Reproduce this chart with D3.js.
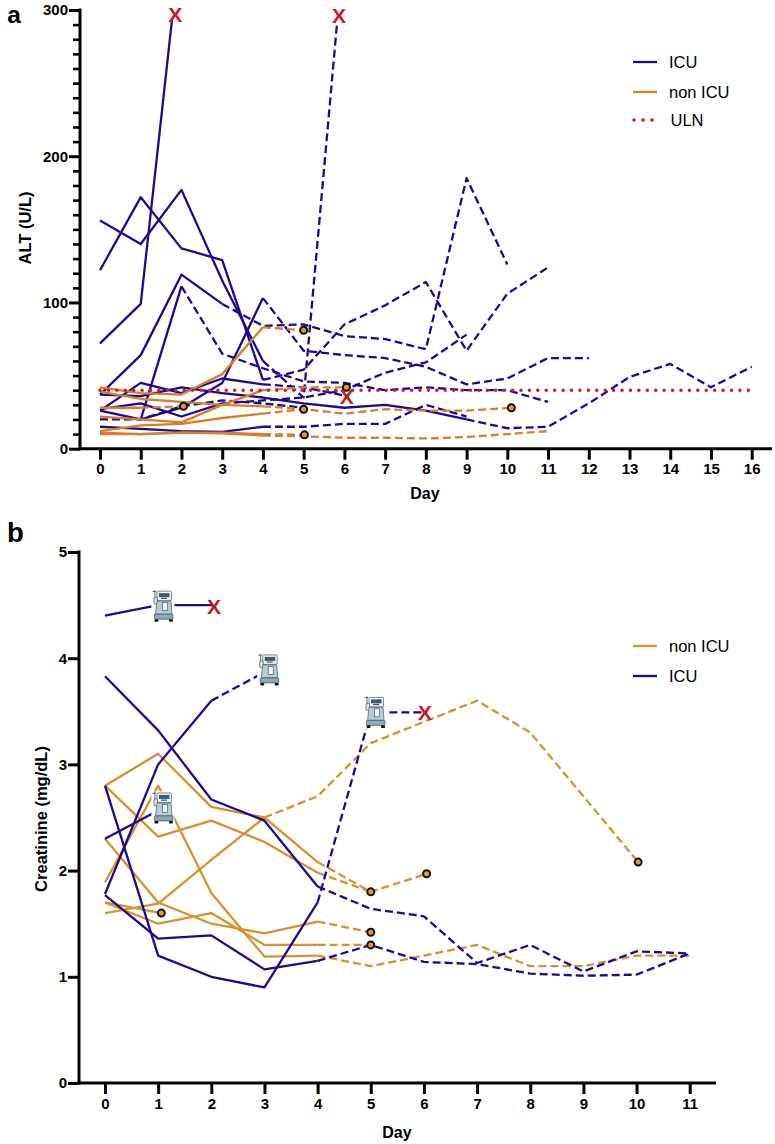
<!DOCTYPE html>
<html><head><meta charset="utf-8">
<script src="https://cdn.jsdelivr.net/npm/d3@7/dist/d3.min.js"></script>
<style>html,body{margin:0;padding:0;background:#fff}svg{display:block}text{font-family:"Liberation Sans",Arial,sans-serif;fill:#000}</style>
</head><body><svg id="c" width="775" height="1144"></svg>
<script>
// ---- Panel a data: ALT (U/L) by day
const altDayTicks = d3.range(0, 17);
const altMajorTicks = [0, 100, 200, 300];
const altMinorTicks = d3.range(0, 301, 10);
const altUln = [[0, 40], [16, 40]];
const altIcuValues = [
  [122,172,137,129,47,54,85,98,114,67,106,124],
  [156,140,177,115,60,35,291],
  [72,99,294],
  [37,64,119,99,84,85,77,75,68,185,126],
  [null,20,111,65,55,46,45,40,42,40,40,32],
  [26,45,38,48,44,42,36],
  [37,36,42,38,35,31,28,30,26,20,14,15,31,49,58,42,56],
  [26,20,28,45,103,67,64,62,56,44,48,62,62],
  [27,31,22,31,33,35,40,52,59,78],
  [15,13.5,12,11.5,15,15,17,17,30,22],
  [20,20,29,33,31,28]
];
const altIcuLastDay = [null,5.82,1.77,null,null,6.06,null,null,null,null,null];
const altIcuSolid = [[0,4],[0,4],[0,2],[0,3],[1,2],[0,4],[0,9],[0,4],[0,3],[0,4],[0,0]];
const altNonValues = [
  [42,38,37,51,83,81],
  [39,34,32,30,29,27],
  [28,28,29],
  [22,20,18,30,40,42,42],
  [12,16,17,21,24,27,24,27,26,26,28],
  [11,10,11,11,10,9.5],
  [10,10,11,10.5,9,8.5,7.5,7.5,7,8,10,12]
];
const altNonLastDay = [null,null,null,null,10.1,null,null];
const altNonSolid = [[0,4],[0,4],[0,1],[0,4],[0,4],[0,4],[0,4]];
const altDots = [[5,81],[5,27],[2.05,29],[6.05,42],[10.1,28],[5.02,9.5]];
const altCrosses = [[1.85,297],[5.87,296],[6.06,35.5]];

// ---- Panel b data: Creatinine (mg/dL) by day
const creDayTicks = d3.range(0, 12);
const creMajorTicks = [0, 1, 2, 3, 4, 5];
const creIcuValues = [
  [4.4,4.5,4.5],
  [3.83,3.32,2.67,2.47,1.85,1.64,1.57,1.13,1.3,1.05,1.24,1.22],
  [1.78,3.0,3.6,3.89],
  [2.8,1.2,1.0,0.9,1.7,3.49,3.49],
  [2.3,2.59],
  [1.77,1.36,1.39,1.07,1.15,1.3,1.14,1.12,1.03,1.01,1.02,1.22]
];
const creIcuLastDay = [2.03,null,3.08,6.01,1.09,null];
const creIcuSolid = [[0,2],[0,4],[0,2],[0,4],[0,1],[0,4]];
const creNonValues = [
  [2.8,3.1,2.6,2.5,2.08,1.8,1.97],
  [2.8,2.32,2.47,2.27,1.98,1.8],
  [1.89,2.8,1.79,1.19,1.2,1.1,1.2,1.3,1.1,1.1,1.2,1.2],
  [2.3,1.7,1.5,1.41,1.52,1.42],
  [1.7,1.5,1.6,1.3,1.3,1.3],
  [1.6,1.69,2.1,2.5,2.7,3.2,3.4,3.6,3.3,2.7,2.08],
  [1.7,1.6]
];
const creNonLastDay = [6.05,null,null,null,null,10.03,1.06];
const creNonSolid = [[0,4],[0,4],[0,4],[0,4],[0,4],[0,3],[0,1]];
const creDots = [[5,1.8],[6.05,1.97],[10.03,2.08],[5,1.42],[5,1.3],[1.06,1.6]];
const creCrosses = [[2.05,4.49],[6.02,3.49]];
const creVents = [[1.09,4.49],[3.08,3.89],[5.08,3.49],[1.09,2.59]];

const BLUE = "#1c0b8e", ORANGE_A = "#d97f27", ORANGE_B = "#d8912e", RED = "#c8191f";
const svg = d3.select("#c");

function series(vals, lastDay) {
  const pts = vals.map((v, i) => [i, v]);
  if (lastDay != null) pts[pts.length - 1][0] = lastDay;
  return pts;
}
function drawLines(g, x, y, valueSets, lastDays, solids, color, w) {
  const line = d3.line().defined(d => d[1] != null).x(d => x(d[0])).y(d => y(d[1]));
  valueSets.forEach((vals, i) => {
    const pts = series(vals, lastDays[i]);
    const [a, b] = solids[i];
    const solid = pts.slice(a, b + 1);
    const after = pts.slice(b);
    const seg = (data, dash) => g.append("path").datum(data).attr("d", line)
      .attr("fill", "none").attr("stroke", color).attr("stroke-width", w)
      .attr("stroke-linejoin", "round").attr("stroke-dasharray", dash);
    if (solid.length > 1) seg(solid, null);
    if (after.length > 1) seg(after, "8 4");
  });
}
function axes(g, x, y, xTicks, yMajor, yMinor, xEnd) {
  const [y0] = y.range();
  const left = x.axisLeftPos;
  if (yMinor) {
    g.append("g").attr("transform", `translate(${left},0)`)
      .call(d3.axisLeft(y).tickValues(yMinor).tickSize(7).tickFormat(""))
      .call(s => s.select(".domain").remove())
      .selectAll("line").attr("stroke", "#000").attr("stroke-width", 2.6);
  }
  const gx = g.append("g").attr("transform", `translate(0,${y0})`)
    .call(d3.axisBottom(x).tickValues(xTicks).tickSize(11).tickSizeOuter(0).tickPadding(4));
  gx.select(".domain").remove();
  g.append("line").attr("x1", left - 1.5).attr("x2", xEnd).attr("y1", y0).attr("y2", y0)
    .attr("stroke", "#000").attr("stroke-width", 3);
  const gy = g.append("g").attr("transform", `translate(${left},0)`)
    .call(d3.axisLeft(y).tickValues(yMajor).tickFormat(d3.format("d")).tickSize(11).tickSizeOuter(0).tickPadding(1));
  gy.select(".domain").remove();
  g.append("line").attr("x1", left).attr("x2", left).attr("y1", y.range()[1] - 1.5).attr("y2", y0 + 1.5)
    .attr("stroke", "#000").attr("stroke-width", 3);
  [gx, gy].forEach(a => {
    a.selectAll(".tick line").attr("stroke", "#000").attr("stroke-width", 3);
    a.selectAll(".tick text").attr("font-size", 15).attr("font-weight", 700)
      .style("font-family", '"Liberation Sans",Arial,sans-serif');
  });
}
function dots(g, x, y, data, fill) {
  g.selectAll(null).data(data).join("circle")
    .attr("cx", d => x(d[0])).attr("cy", d => y(d[1])).attr("r", 3.5)
    .attr("fill", fill).attr("stroke", "#111").attr("stroke-width", 2);
}
function crosses(g, x, y, data) {
  g.selectAll(null).data(data).join("text").text("X")
    .attr("x", d => x(d[0])).attr("y", d => y(d[1]) + 7.6)
    .attr("text-anchor", "middle").attr("font-size", 21).attr("font-weight", 700)
    .style("fill", RED);
}
function legend(g, rows) {
  rows.forEach(r => {
    if (r.dotted) {
      g.append("line").attr("x1", 634).attr("x2", 653).attr("y1", r.y).attr("y2", r.y)
        .attr("stroke", r.color).attr("stroke-width", 3.6).attr("stroke-linecap", "round")
        .attr("stroke-dasharray", "0 9");
    } else {
      g.append("line").attr("x1", 633).attr("x2", 657).attr("y1", r.y).attr("y2", r.y)
        .attr("stroke", r.color).attr("stroke-width", 2.3);
    }
    g.append("text").text(r.label).attr("x", r.tx).attr("y", r.y + 6)
      .attr("font-size", 16.5);
  });
}
function ventilator(g, cx, cy) {
  const v = g.append("g").attr("transform", `translate(${cx},${cy})`);
  const r = (x, y, w, h, f, s, rx) => v.append("rect").attr("x", x).attr("y", y).attr("width", w).attr("height", h)
    .attr("fill", f).attr("stroke", s || "none").attr("stroke-width", s ? 0.7 : 0).attr("rx", rx || 0);
  r(-11.5, -16.5, 23, 33, "#fff");
  v.append("path").attr("d", "M-8,-16 L-8,-7 M-10.5,-14.5 L-7,-15").attr("stroke", "#555").attr("stroke-width", 0.9).attr("fill", "none");
  r(-6, -15, 14.5, 9.5, "#eef2f4", "#4a5a63", 1);
  r(-4, -13, 10.5, 4, "#3f5a6e");
  r(-2, -8.4, 6, 1.2, "#3f5a6e");
  r(-9, -9, 3.5, 7, "#dfe6e9", "#4a5a63", 1);
  v.append("path").attr("d", "M-6,-5 L8,-5 L9,8 L-7.5,8 Z").attr("fill", "#b6cdd6").attr("stroke", "#4a5a63").attr("stroke-width", 0.7);
  r(-0.5, -3.5, 5, 8, "#f4f7f8", "#4a5a63");
  r(-8.5, 8, 18.5, 5, "#8eaab6", "#3f4f58", 1);
  r(-8.5, 13, 4, 2.6, "#111", null, 1);
  r(6, 13, 4, 2.6, "#111", null, 1);
}
function label(g, text, x, y, size, rotate) {
  const t = g.append("text").text(text).attr("font-size", size).attr("font-weight", 700).attr("text-anchor", "middle");
  if (rotate) t.attr("transform", `translate(${x},${y}) rotate(-90)`);
  else t.attr("x", x).attr("y", y);
}

// Panel a
const ga = svg.append("g");
const xa = d3.scaleLinear().domain([0, 16]).range([100, 751.7]); xa.axisLeftPos = 80;
const ya = d3.scaleLinear().domain([0, 300]).range([448.7, 10]);
drawLines(ga, xa, ya, altIcuValues, altIcuLastDay, altIcuSolid, BLUE, 2.3);
drawLines(ga, xa, ya, altNonValues, altNonLastDay, altNonSolid, ORANGE_A, 2.3);
ga.append("path").datum(altUln).attr("d", d3.line().x(d => xa(d[0])).y(d => ya(d[1])))
  .attr("fill", "none").attr("stroke", "#cc1f26").attr("stroke-width", 3.6)
  .attr("stroke-linecap", "round").attr("stroke-dasharray", "0 8.42");
axes(ga, xa, ya, altDayTicks, altMajorTicks, altMinorTicks.filter(t => t % 100 !== 0), 772);
dots(ga, xa, ya, altDots, "#e59a2e");
crosses(ga, xa, ya, altCrosses);
legend(ga, [
  {label: "ICU", y: 62, color: BLUE, tx: 669},
  {label: "non ICU", y: 92, color: ORANGE_A, tx: 669},
  {label: "ULN", y: 120, color: "#cc1f26", tx: 670.5, dotted: true}
]);
label(ga, "ALT (U/L)", 31, 228, 16.5, true);
label(ga, "Day", 425, 499, 16);
label(ga, "a", 14, 22.5, 24.5);

// Panel b
const gb = svg.append("g");
const xb = d3.scaleLinear().domain([0, 11]).range([105, 689.7]); xb.axisLeftPos = 79;
const yb = d3.scaleLinear().domain([0, 5]).range([1083, 552]);
drawLines(gb, xb, yb, creNonValues, creNonLastDay, creNonSolid, ORANGE_B, 2.3);
drawLines(gb, xb, yb, creIcuValues, creIcuLastDay, creIcuSolid, BLUE, 2.3);
axes(gb, xb, yb, creDayTicks, creMajorTicks, null, 716);
dots(gb, xb, yb, creDots, "#e59a2e");
creVents.forEach(d => ventilator(gb, xb(d[0]), yb(d[1])));
crosses(gb, xb, yb, creCrosses);
legend(gb, [
  {label: "non ICU", y: 646, color: ORANGE_B, tx: 669},
  {label: "ICU", y: 676, color: BLUE, tx: 669}
]);
label(gb, "Creatinine (mg/dL)", 47, 819, 16.5, true);
label(gb, "Day", 397, 1138, 16);
label(gb, "b", 15.5, 542, 27.5);
</script></body></html>
